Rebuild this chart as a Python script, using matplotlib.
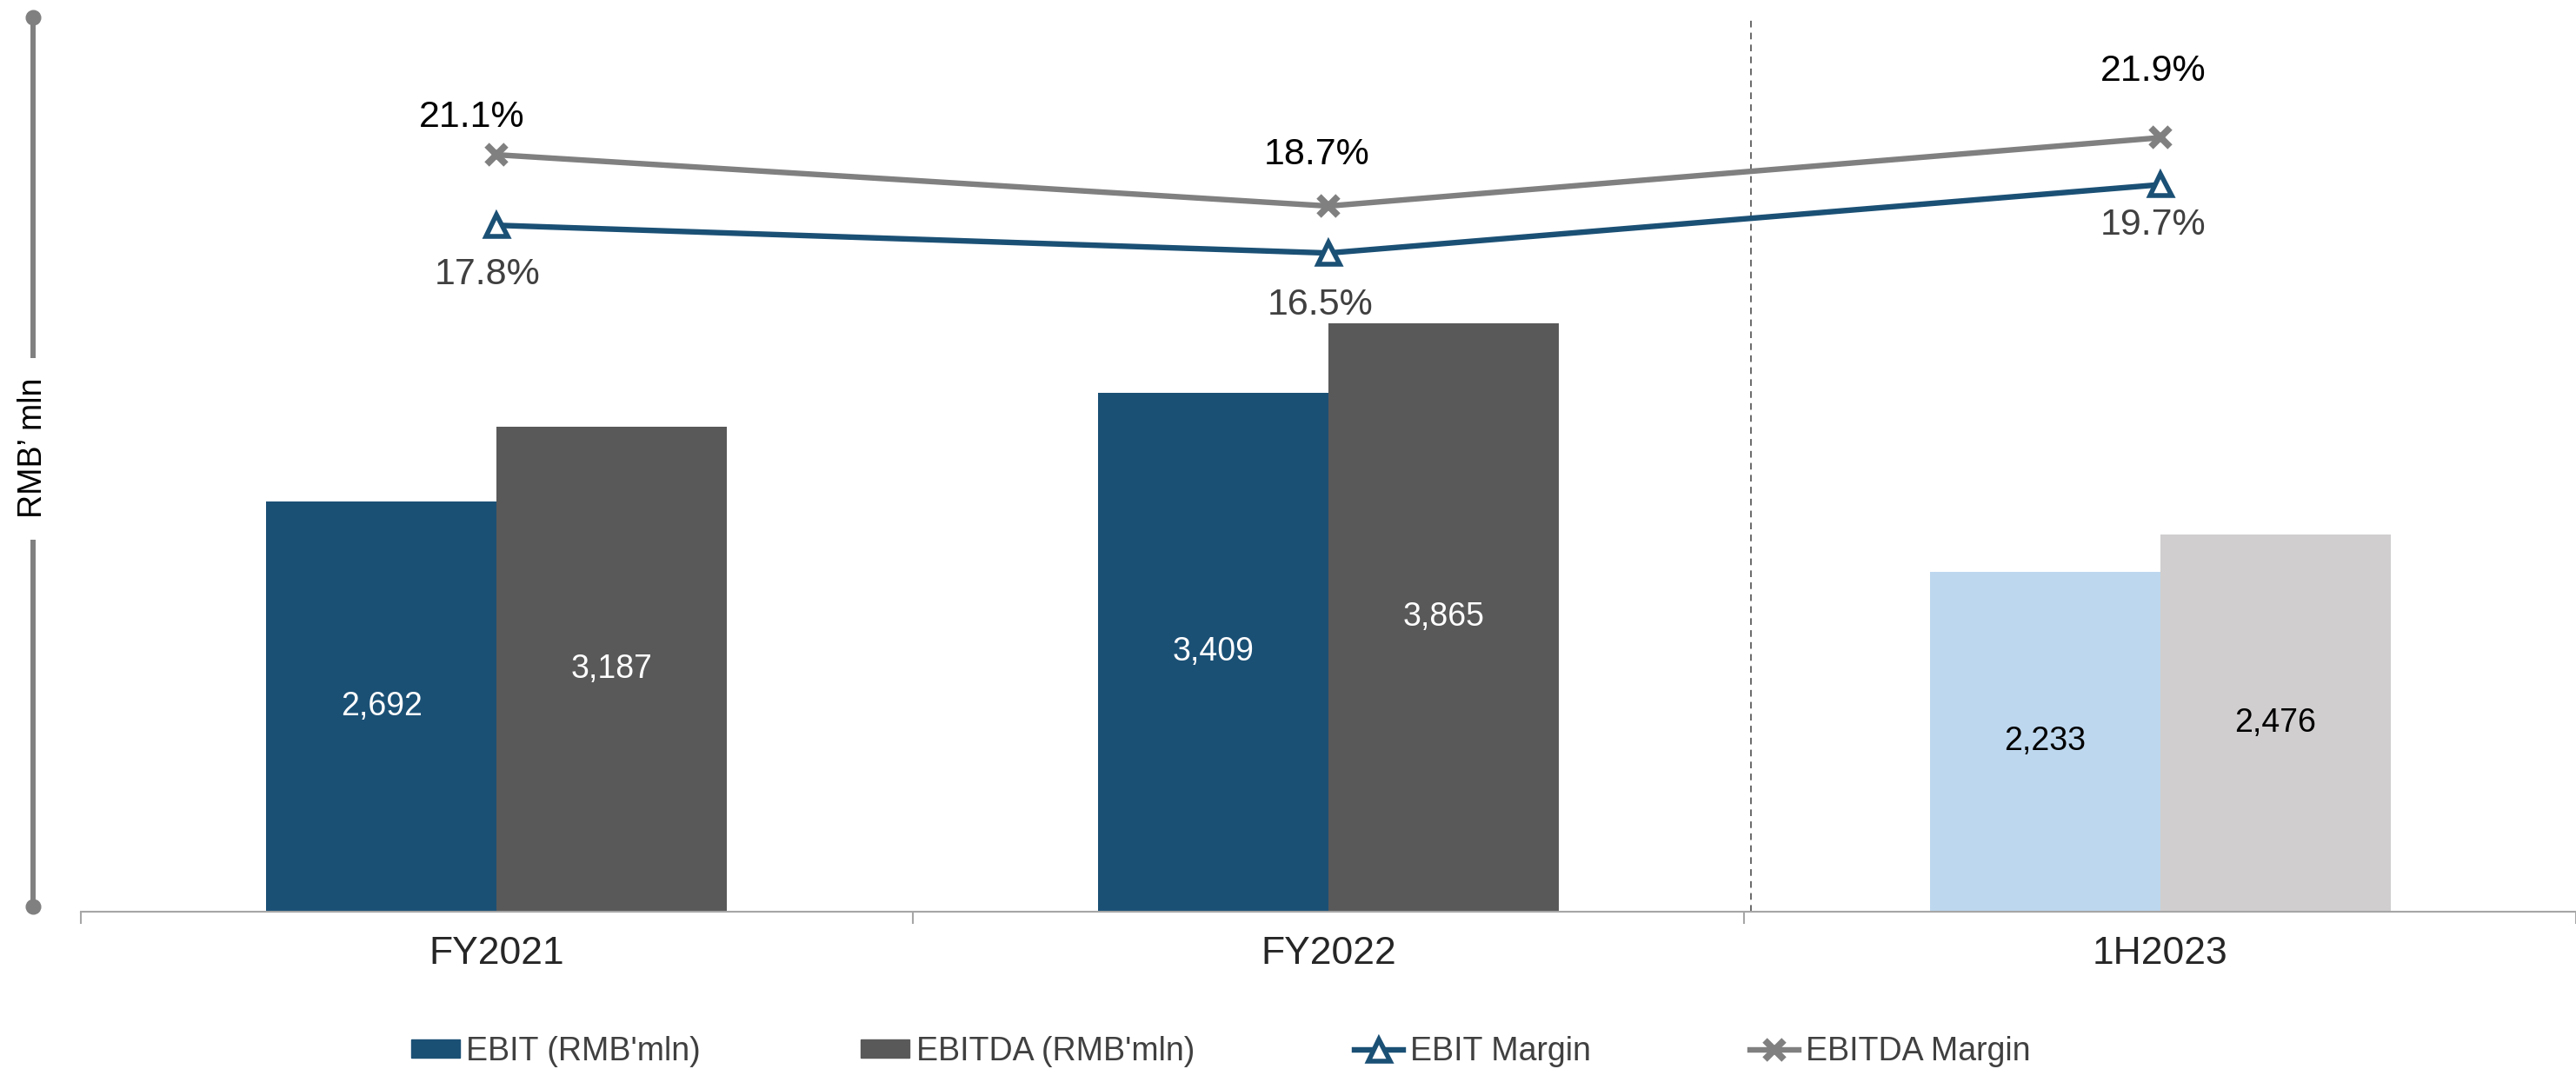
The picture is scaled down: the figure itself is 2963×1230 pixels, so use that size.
import numpy as np
import matplotlib
matplotlib.use("Agg")
import matplotlib.pyplot as plt
from matplotlib.patches import Patch
from matplotlib.lines import Line2D

plt.rcParams['font.family'] = ['Liberation Sans', 'DejaVu Sans']

# data
periods = ['FY2021', 'FY2022', '1H2023']
ebit = [2692, 3409, 2233]
ebitda = [3187, 3865, 2476]
ebit_margin = [17.8, 16.5, 19.7]
ebitda_margin = [21.1, 18.7, 21.9]

# styling
ebit_colors = ['#1B5075', '#1B5075', '#BDD7EE']
ebitda_colors = ['#595959', '#595959', '#D0CECE']
ebit_txt = ['white', 'white', 'black']
ebitda_txt = ['white', 'white', 'black']
line_blue = '#1B5075'
line_grey = '#808080'
# label offsets in pixels (dx, dy)
ebitda_off = [(-29, 43), (-13, 59), (-8, 76)]
ebit_off = [(-11, -57), (-9, -60), (-8, -47)]

W, H = 2963, 1230
fig = plt.figure(figsize=(W / 100, H / 100), dpi=100)
ax = fig.add_axes([93 / W, 1 - 1049 / H, (W - 93) / W, (1049 - 21) / H])

x = np.arange(len(periods))
w = 0.277
ax.bar(x - w / 2, ebit, w, color=ebit_colors, zorder=2)
ax.bar(x + w / 2, ebitda, w, color=ebitda_colors, zorder=2)

for i in range(len(periods)):
    ax.text(x[i] - w / 2, ebit[i] / 2, f"{ebit[i]:,}", ha='center', va='center',
            fontsize=27, color=ebit_txt[i], zorder=3)
    ax.text(x[i] + w / 2, ebitda[i] / 2, f"{ebitda[i]:,}", ha='center', va='center',
            fontsize=27, color=ebitda_txt[i], zorder=3)

ax.set_xlim(-0.5, 2.5)
ax.set_ylim(0, 5868)
for s in ['left', 'top', 'right']:
    ax.spines[s].set_visible(False)
ax.spines['bottom'].set_color('#A6A6A6')
ax.spines['bottom'].set_linewidth(1.5)
ax.set_yticks([])
ax.set_xticks(x)
ax.set_xticklabels(periods, fontsize=32, color='#262626')
ax.tick_params(axis='x', which='major', length=0, pad=20)
ax.set_xticks([-0.5, 0.5, 1.5, 2.5], minor=True)
ax.tick_params(axis='x', which='minor', length=10, width=1.5, color='#A6A6A6', direction='out')

ax.axvline(1.508, color='#404040', lw=1.1, ls=(0, (5, 4)), zorder=1)

ax2 = ax.twinx()
ax2.set_ylim(-14.33, 27.49)
ax2.axis('off')
ax2.plot(x, ebit_margin, color=line_blue, lw=4.6, marker='^', ms=18,
         mfc='white', mec=line_blue, mew=4, solid_joinstyle='round', zorder=4)
ax2.plot(x, ebitda_margin, color=line_grey, lw=4.6, marker='x', ms=16,
         mew=5.5, solid_joinstyle='round', zorder=4)

for i in range(len(periods)):
    ax2.annotate(f"{ebitda_margin[i]:.1f}%", (x[i], ebitda_margin[i]),
                 xytext=ebitda_off[i], textcoords='offset pixels',
                 ha='center', va='center', fontsize=31, color='black')
    ax2.annotate(f"{ebit_margin[i]:.1f}%", (x[i], ebit_margin[i]),
                 xytext=ebit_off[i], textcoords='offset pixels',
                 ha='center', va='center', fontsize=31, color='#404040')

# left decorative axis with label
lx = 38 / W
fig.add_artist(Line2D([lx, lx], [1 - 20 / H, 1 - 412 / H], transform=fig.transFigure,
                      color='#808080', lw=4.3, solid_capstyle='butt'))
fig.add_artist(Line2D([lx, lx], [1 - 621 / H, 1 - 1043 / H], transform=fig.transFigure,
                      color='#808080', lw=4.3, solid_capstyle='butt'))
fig.add_artist(Line2D([lx, lx], [1 - 20 / H, 1 - 1043 / H], transform=fig.transFigure,
                      color='#808080', lw=0, marker='o', ms=12))
fig.text(lx, 1 - 515 / H, "RMB\u2019 mln", rotation=90, ha='center', va='center',
         fontsize=27, color='black')

handles = [Patch(color=ebit_colors[0]), Patch(color=ebitda_colors[0]),
           Line2D([], [], color=line_blue, lw=4.6, marker='^', ms=18, mfc='white',
                  mec=line_blue, mew=4),
           Line2D([], [], color=line_grey, lw=4.6, marker='x', ms=16, mew=5.5)]
labels = ["EBIT (RMB'mln)", "EBITDA (RMB'mln)", "EBIT Margin", "EBITDA Margin"]
fig.legend(handles, labels, ncol=4, loc='center',
           bbox_to_anchor=(1404 / W, 1 - 1210 / H), frameon=False, fontsize=27,
           handlelength=1.5, handleheight=0.5, handletextpad=0.2,
           columnspacing=4.9, labelcolor='#404040')

fig.savefig('out.png', dpi=100)
